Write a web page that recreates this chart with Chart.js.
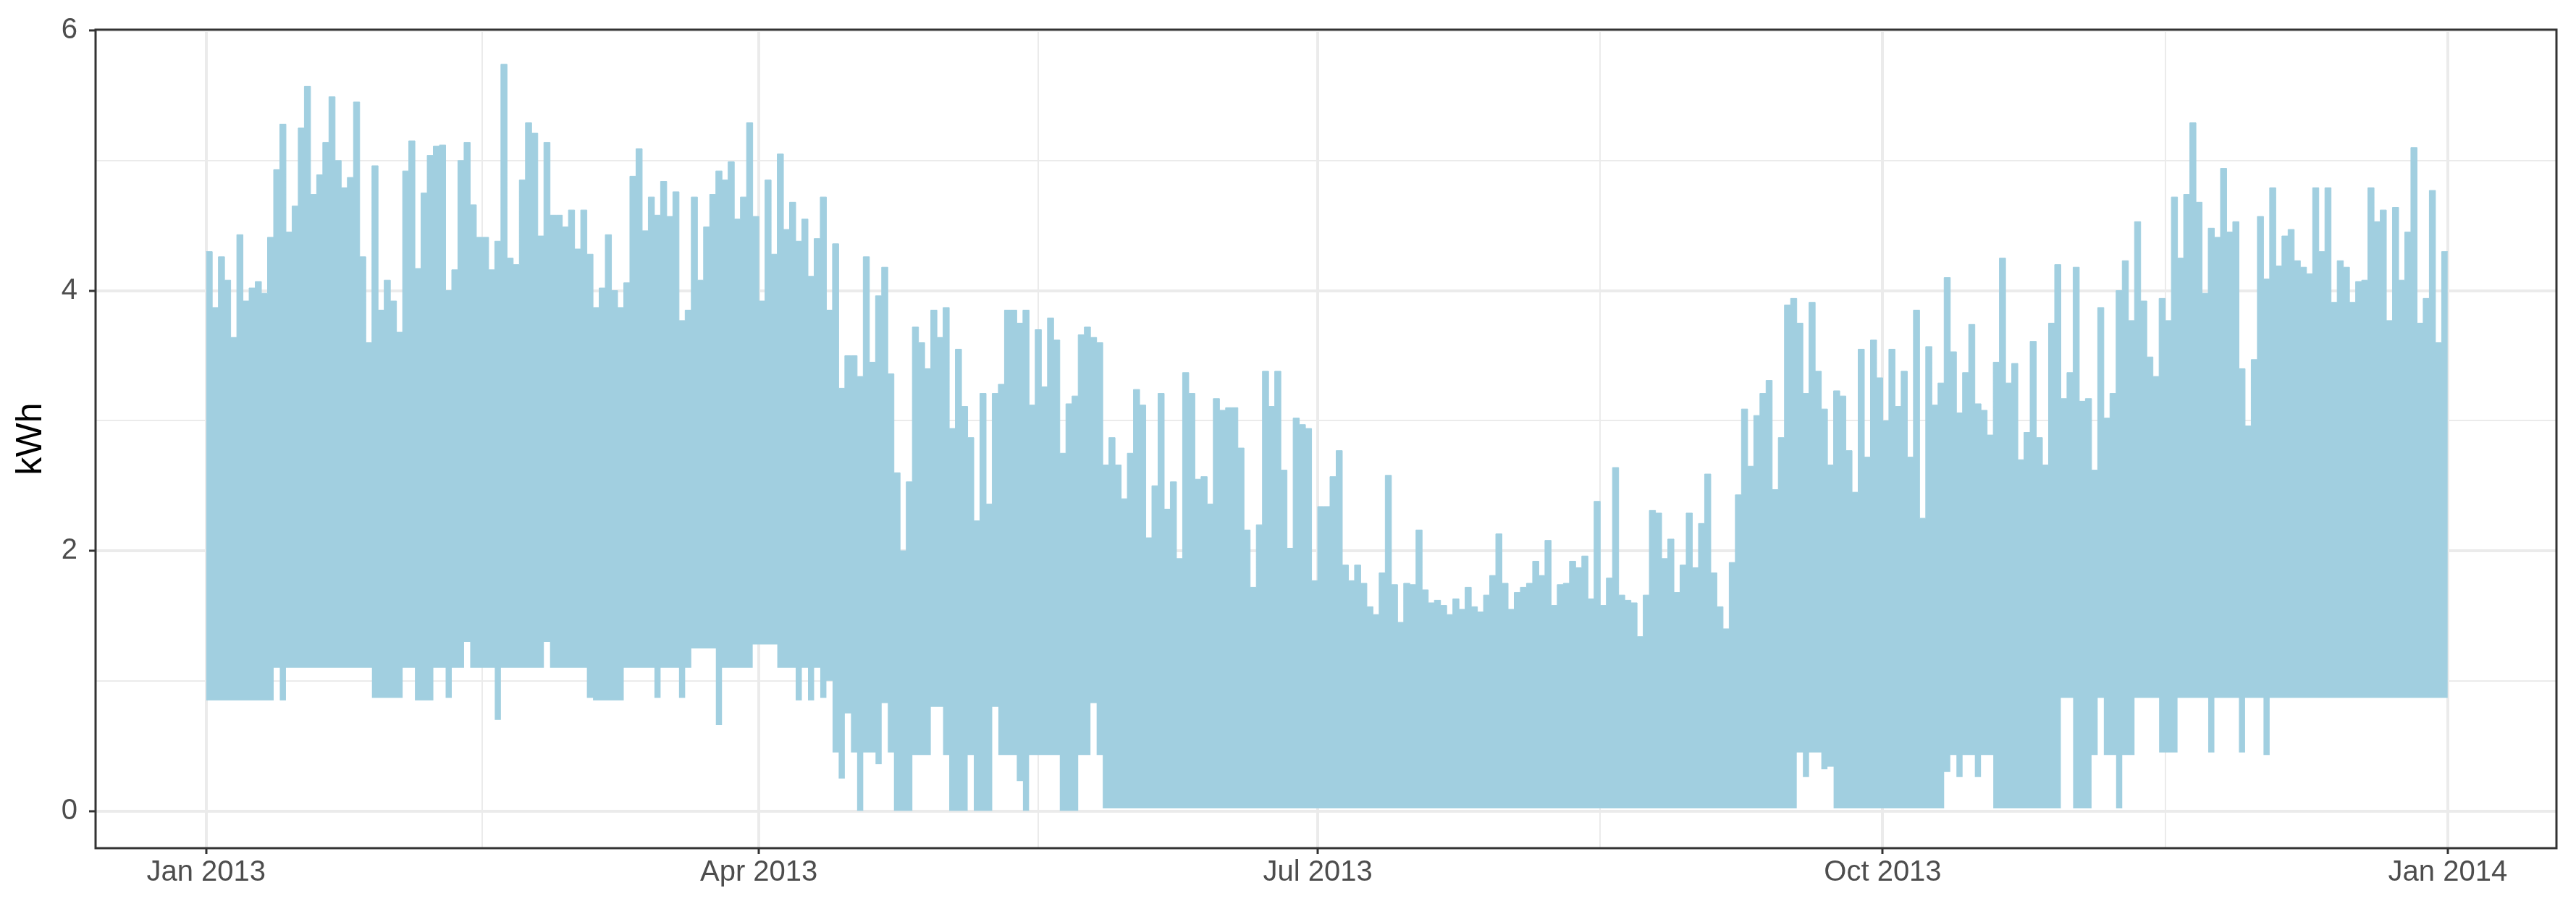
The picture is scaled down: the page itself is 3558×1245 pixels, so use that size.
<!DOCTYPE html>
<html>
<head>
<meta charset="utf-8">
<title>Hourly consumption 2013</title>
<script src="https://cdn.jsdelivr.net/npm/chart.js@4.4.1/dist/chart.umd.min.js"></script>
<style>
  html, body { margin: 0; padding: 0; background: #ffffff; }
  #wrap { width: 3558px; height: 1245px; }
</style>
</head>
<body>
<div id="wrap"><canvas id="chart"></canvas></div>
<script>
// ---------- Data (one value per day of 2013) ----------

// daily peak of the hourly series, kWh (day 0 = 1 Jan 2013)
const dailyHigh = [
    4.30, 3.87, 4.26, 4.08, 3.64, 4.43, 3.92, 4.02, 4.07, 3.98,
    4.41, 4.93, 5.28, 4.45, 4.65, 5.25, 5.57, 4.74, 4.89, 5.14,
    5.49, 5.00, 4.79, 4.87, 5.45, 4.26, 3.60, 4.96, 3.85, 4.08,
    3.92, 3.68, 4.92, 5.15, 4.17, 4.75, 5.04, 5.11, 5.12, 4.00,
    4.16, 5.00, 5.14, 4.66, 4.41, 4.41, 4.16, 4.38, 5.74, 4.25,
    4.20, 4.85, 5.29, 5.21, 4.42, 5.14, 4.58, 4.58, 4.49, 4.62,
    4.32, 4.62, 4.28, 3.87, 4.02, 4.43, 4.00, 3.87, 4.06, 4.88,
    5.09, 4.46, 4.72, 4.58, 4.84, 4.57, 4.76, 3.77, 3.85, 4.72,
    4.08, 4.49, 4.74, 4.92, 4.85, 4.99, 4.55, 4.72, 5.29, 4.57,
    3.92, 4.85, 4.28, 5.05, 4.47, 4.68, 4.38, 4.55, 4.11, 4.40,
    4.72, 3.85, 4.36, 3.25, 3.50, 3.50, 3.34, 4.26, 3.45, 3.96,
    4.18, 3.36, 2.60, 2.00, 2.53, 3.72, 3.60, 3.40, 3.85, 3.64,
    3.87, 2.94, 3.55, 3.11, 2.87, 2.23, 3.21, 2.36, 3.21, 3.28,
    3.85, 3.85, 3.75, 3.85, 3.12, 3.70, 3.26, 3.79, 3.62, 2.75,
    3.13, 3.19, 3.66, 3.72, 3.64, 3.60, 2.66, 2.87, 2.66, 2.40,
    2.75, 3.24, 3.12, 2.10, 2.50, 3.21, 2.32, 2.53, 1.94, 3.37,
    3.21, 2.55, 2.57, 2.36, 3.17, 3.08, 3.10, 3.10, 2.79, 2.16,
    1.72, 2.20, 3.38, 3.11, 3.38, 2.62, 2.02, 3.02, 2.97, 2.94,
    1.77, 2.34, 2.34, 2.57, 2.77, 1.89, 1.77, 1.89, 1.75, 1.57,
    1.51, 1.83, 2.58, 1.74, 1.45, 1.75, 1.74, 2.16, 1.70, 1.60,
    1.62, 1.58, 1.51, 1.63, 1.55, 1.72, 1.57, 1.53, 1.66, 1.81,
    2.13, 1.75, 1.55, 1.68, 1.72, 1.75, 1.92, 1.81, 2.08, 1.58,
    1.74, 1.75, 1.92, 1.87, 1.96, 1.63, 2.38, 1.58, 1.79, 2.64,
    1.66, 1.62, 1.60, 1.34, 1.66, 2.31, 2.29, 1.94, 2.09, 1.68,
    1.89, 2.29, 1.87, 2.21, 2.59, 1.83, 1.57, 1.40, 1.91, 2.43,
    3.09, 2.65, 3.04, 3.21, 3.31, 2.47, 2.87, 3.89, 3.94, 3.75,
    3.21, 3.91, 3.38, 3.09, 2.66, 3.23, 3.19, 2.77, 2.45, 3.55,
    2.72, 3.62, 3.33, 3.00, 3.55, 3.11, 3.38, 2.72, 3.85, 2.25,
    3.57, 3.12, 3.29, 4.10, 3.53, 3.06, 3.37, 3.74, 3.13, 3.08,
    2.89, 3.45, 4.25, 3.29, 3.44, 2.70, 2.91, 3.61, 2.87, 2.66,
    3.75, 4.20, 3.17, 3.37, 4.18, 3.15, 3.17, 2.62, 3.87, 3.02,
    3.21, 4.00, 4.23, 3.77, 4.53, 3.92, 3.49, 3.34, 3.94, 3.77,
    4.72, 4.25, 4.74, 5.29, 4.68, 3.98, 4.48, 4.41, 4.94, 4.45,
    4.53, 3.40, 2.96, 3.47, 4.57, 4.09, 4.79, 4.19, 4.42, 4.47,
    4.23, 4.18, 4.13, 4.79, 4.30, 4.79, 3.91, 4.23, 4.18, 3.91,
    4.07, 4.08, 4.79, 4.53, 4.62, 3.77, 4.64, 4.08, 4.45, 5.10,
    3.75, 3.94, 4.77, 3.60, 4.30
];

// daily minimum of the hourly series, kWh
const dailyLow = [
    0.85, 0.85, 0.85, 0.85, 0.85, 0.85, 0.85, 0.85, 0.85, 0.85,
    0.85, 1.10, 0.85, 1.10, 1.10, 1.10, 1.10, 1.10, 1.10, 1.10,
    1.10, 1.10, 1.10, 1.10, 1.10, 1.10, 1.10, 0.87, 0.87, 0.87,
    0.87, 0.87, 1.10, 1.10, 0.85, 0.85, 0.85, 1.10, 1.10, 0.87,
    1.10, 1.10, 1.30, 1.10, 1.10, 1.10, 1.10, 0.70, 1.10, 1.10,
    1.10, 1.10, 1.10, 1.10, 1.10, 1.30, 1.10, 1.10, 1.10, 1.10,
    1.10, 1.10, 0.87, 0.85, 0.85, 0.85, 0.85, 0.85, 1.10, 1.10,
    1.10, 1.10, 1.10, 0.87, 1.10, 1.10, 1.10, 0.87, 1.10, 1.25,
    1.25, 1.25, 1.25, 0.66, 1.10, 1.10, 1.10, 1.10, 1.10, 1.28,
    1.28, 1.28, 1.28, 1.10, 1.10, 1.10, 0.85, 1.10, 0.85, 1.10,
    0.87, 1.00, 0.45, 0.25, 0.75, 0.45, 0.00, 0.45, 0.45, 0.36,
    0.83, 0.45, 0.00, 0.00, 0.00, 0.43, 0.43, 0.43, 0.80, 0.80,
    0.43, 0.00, 0.00, 0.00, 0.43, 0.00, 0.00, 0.00, 0.80, 0.43,
    0.43, 0.43, 0.23, 0.00, 0.43, 0.43, 0.43, 0.43, 0.43, 0.00,
    0.00, 0.00, 0.43, 0.43, 0.83, 0.43, 0.02, 0.02, 0.02, 0.02,
    0.02, 0.02, 0.02, 0.02, 0.02, 0.02, 0.02, 0.02, 0.02, 0.02,
    0.02, 0.02, 0.02, 0.02, 0.02, 0.02, 0.02, 0.02, 0.02, 0.02,
    0.02, 0.02, 0.02, 0.02, 0.02, 0.02, 0.02, 0.02, 0.02, 0.02,
    0.02, 0.02, 0.02, 0.02, 0.02, 0.02, 0.02, 0.02, 0.02, 0.02,
    0.02, 0.02, 0.02, 0.02, 0.02, 0.02, 0.02, 0.02, 0.02, 0.02,
    0.02, 0.02, 0.02, 0.02, 0.02, 0.02, 0.02, 0.02, 0.02, 0.02,
    0.02, 0.02, 0.02, 0.02, 0.02, 0.02, 0.02, 0.02, 0.02, 0.02,
    0.02, 0.02, 0.02, 0.02, 0.02, 0.02, 0.02, 0.02, 0.02, 0.02,
    0.02, 0.02, 0.02, 0.02, 0.02, 0.02, 0.02, 0.02, 0.02, 0.02,
    0.02, 0.02, 0.02, 0.02, 0.02, 0.02, 0.02, 0.02, 0.02, 0.02,
    0.02, 0.02, 0.02, 0.02, 0.02, 0.02, 0.02, 0.02, 0.02, 0.45,
    0.26, 0.45, 0.45, 0.32, 0.34, 0.02, 0.02, 0.02, 0.02, 0.02,
    0.02, 0.02, 0.02, 0.02, 0.02, 0.02, 0.02, 0.02, 0.02, 0.02,
    0.02, 0.02, 0.02, 0.30, 0.43, 0.26, 0.43, 0.43, 0.26, 0.43,
    0.43, 0.02, 0.02, 0.02, 0.02, 0.02, 0.02, 0.02, 0.02, 0.02,
    0.02, 0.02, 0.87, 0.87, 0.02, 0.02, 0.02, 0.43, 0.87, 0.43,
    0.43, 0.02, 0.43, 0.43, 0.87, 0.87, 0.87, 0.87, 0.45, 0.45,
    0.45, 0.87, 0.87, 0.87, 0.87, 0.87, 0.45, 0.87, 0.87, 0.87,
    0.87, 0.45, 0.87, 0.87, 0.87, 0.43, 0.87, 0.87, 0.87, 0.87,
    0.87, 0.87, 0.87, 0.87, 0.87, 0.87, 0.87, 0.87, 0.87, 0.87,
    0.87, 0.87, 0.87, 0.87, 0.87, 0.87, 0.87, 0.87, 0.87, 0.87,
    0.87, 0.87, 0.87, 0.87, 0.87
];

// x axis, in days from 1 Jan 2013
const majorDays = [0, 90, 181, 273, 365];
const majorLabels = ['Jan 2013', 'Apr 2013', 'Jul 2013', 'Oct 2013', 'Jan 2014'];
const minorDays = [45, 135.5, 227, 319];

// y axis
const yMajor = [0, 2, 4, 6];
const yMinor = [1, 3, 5];

// ---------- Helpers ----------

const LINE_COLOR = 'rgb(161, 207, 224)';
const FONT = "'Liberation Sans', Arial, Helvetica, sans-serif";

// one flat step per day: point i holds from day i to day i+1
function toSteps(values) {
    const points = values.map((v, i) => ({ x: i, y: v }));
    points.push({ x: values.length, y: values[values.length - 1] });
    return points;
}

function tickList(major, minor) {
    return major.concat(minor).sort((a, b) => a - b).map(v => ({ value: v }));
}

const panelBorder = {
    id: 'panelBorder',
    afterDraw(chart) {
        const { ctx, chartArea: a } = chart;
        ctx.save();
        ctx.strokeStyle = '#333333';
        ctx.lineWidth = 3;
        ctx.strokeRect(a.left, a.top, a.right - a.left, a.bottom - a.top);
        ctx.restore();
    }
};

// ---------- Chart ----------

Chart.defaults.font.family = FONT;

const ctx = document.getElementById('chart').getContext('2d');
new Chart(ctx, {
    type: 'line',
    data: {
        datasets: [
            {
                label: 'low',
                data: toSteps(dailyLow),
                stepped: true,
                borderWidth: 0,
                borderColor: 'rgba(0,0,0,0)',
                pointRadius: 0,
                fill: false
            },
            {
                label: 'kWh',
                data: toSteps(dailyHigh),
                stepped: true,
                borderWidth: 1,
                borderColor: LINE_COLOR,
                backgroundColor: LINE_COLOR,
                pointRadius: 0,
                fill: '-1'
            }
        ]
    },
    options: {
        responsive: true,
        maintainAspectRatio: false,
        animation: false,
        devicePixelRatio: 1,
        layout: { padding: { top: 41, right: 27, left: 0, bottom: 0 } },
        plugins: {
            legend: { display: false },
            tooltip: { enabled: false }
        },
        scales: {
            x: {
                type: 'linear',
                min: -18.0,
                max: 382.7,
                afterBuildTicks: scale => { scale.ticks = tickList(majorDays, minorDays); },
                afterFit: scale => { scale.height = 73; },
                border: { display: false },
                grid: {
                    color: '#EBEBEB',
                    lineWidth: c => majorDays.includes(c.tick.value) ? 4 : 2,
                    drawTicks: true,
                    tickLength: 8,
                    tickWidth: 3,
                    tickColor: c => majorDays.includes(c.tick.value) ? '#333333' : 'rgba(0,0,0,0)'
                },
                ticks: {
                    autoSkip: false,
                    maxRotation: 0,
                    padding: 2,
                    color: '#4D4D4D',
                    font: { size: 40 },
                    callback: value => {
                        const i = majorDays.indexOf(value);
                        return i >= 0 ? majorLabels[i] : '';
                    }
                }
            },
            y: {
                type: 'linear',
                min: -0.286,
                max: 6.006,
                afterBuildTicks: scale => { scale.ticks = tickList(yMajor, yMinor); },
                afterFit: scale => { scale.width = 132; },
                border: { display: false },
                grid: {
                    color: '#EBEBEB',
                    lineWidth: c => yMajor.includes(c.tick.value) ? 4 : 2,
                    drawTicks: true,
                    tickLength: 9,
                    tickWidth: 3,
                    tickColor: c => yMajor.includes(c.tick.value) ? '#333333' : 'rgba(0,0,0,0)'
                },
                ticks: {
                    padding: 16,
                    color: '#4D4D4D',
                    font: { size: 40 },
                    callback: value => yMajor.includes(value) ? String(value) : ''
                },
                title: {
                    display: true,
                    text: 'kWh',
                    color: '#000000',
                    font: { size: 50 },
                    padding: { top: 13, bottom: 0 }
                }
            }
        }
    },
    plugins: [panelBorder]
});
</script>
</body>
</html>
